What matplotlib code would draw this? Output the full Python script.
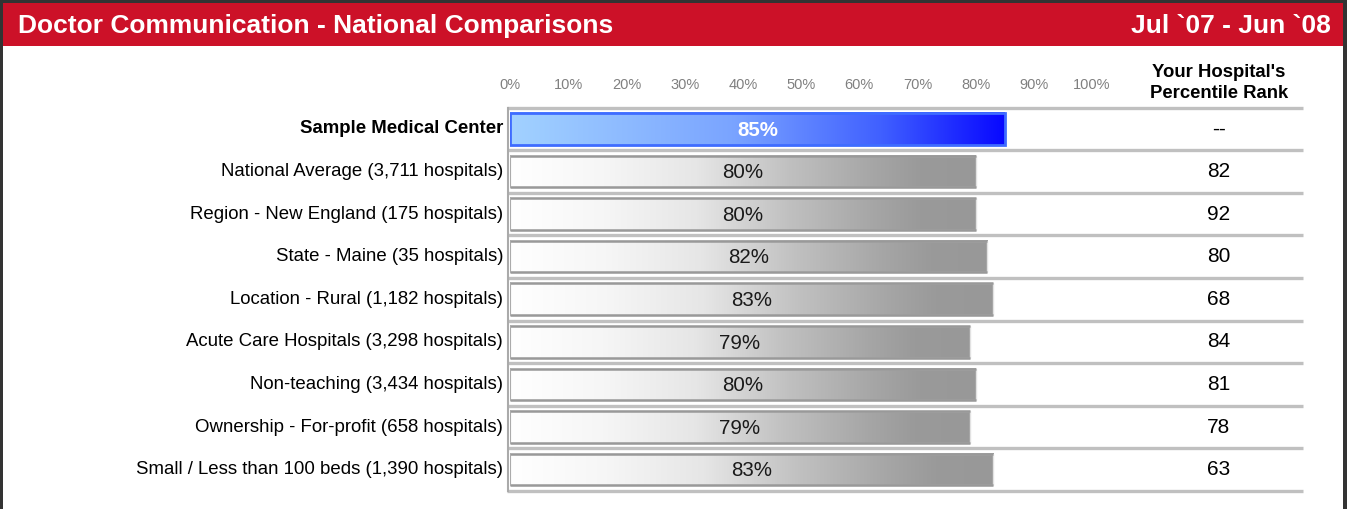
import numpy as np
import matplotlib.pyplot as plt
from matplotlib.colors import LinearSegmentedColormap
from matplotlib.patches import Rectangle

plt.rcParams['font.family'] = ['Liberation Sans', 'DejaVu Sans']

# data
categories = [
    'Sample Medical Center',
    'National Average (3,711 hospitals)',
    'Region - New England (175 hospitals)',
    'State - Maine (35 hospitals)',
    'Location - Rural (1,182 hospitals)',
    'Acute Care Hospitals (3,298 hospitals)',
    'Non-teaching (3,434 hospitals)',
    'Ownership - For-profit (658 hospitals)',
    'Small / Less than 100 beds (1,390 hospitals)',
]
scores = [85, 80, 80, 82, 83, 79, 80, 79, 83]
ranks = ['--', '82', '92', '80', '68', '84', '81', '78', '63']
ticks = [0, 10, 20, 30, 40, 50, 60, 70, 80, 90, 100]
title = 'Doctor Communication - National Comparisons'
period = 'Jul `07 - Jun `08'

W, H = 1347, 509
fig = plt.figure(figsize=(W / 100, H / 100), dpi=100, facecolor='white')

# frame and header band
fig.patches.append(Rectangle((3 / W, 1 - 46 / H), 1 - 7 / W, 43 / H,
                             transform=fig.transFigure, facecolor='#cc1128',
                             edgecolor='none', zorder=-2))
for (x0, y0, w, h) in [(0, 0, 3, H), (0, 0, W, 3), (W - 4, 0, 4, H)]:
    fig.patches.append(Rectangle((x0 / W, 1 - (y0 + h) / H), w / W, h / H,
                                 transform=fig.transFigure, facecolor='#333333',
                                 edgecolor='none', zorder=-1))
fig.text(18 / W, 1 - 26 / H, title, color='white', fontsize=19,
         fontweight='bold', va='center', ha='left')
fig.text(1331 / W, 1 - 26 / H, period, color='white', fontsize=19,
         fontweight='bold', va='center', ha='right')

# plotting area: 0% at x=510, 100% at x=1092
left, right = 510, 1092
top, bottom = 107.5, 491
ax = fig.add_axes([left / W, 1 - bottom / H, (right - left) / W, (bottom - top) / H])
ax.set_xlim(0, 100)
n = len(categories)
ax.set_ylim(n, 0)
ax.axis('off')

px = 100 / (right - left)
x_end = (1303 - left) * px
x_rank = (1219 - left) * px

gray_cmap = LinearSegmentedColormap.from_list(
    'g', [(0, '#ffffff'), (0.2, '#f6f6f6'), (0.4, '#e6e6e6'), (0.6, '#c0c0c0'),
          (0.78, '#a6a6a6'), (0.88, '#9a9a9a'), (1, '#989898')])
blue_cmap = LinearSegmentedColormap.from_list(
    'b', [(0, '#a2d2ff'), (0.45, '#7aa4ff'), (0.75, '#4060ff'), (1, '#0808ff')])
grad = np.linspace(0, 1, 256).reshape(1, -1)

for i, (cat, val, rk) in enumerate(zip(categories, scores, ranks)):
    yc = i + 0.5
    first = i == 0
    h = 0.76 if first else 0.74
    ax.imshow(grad, cmap=blue_cmap if first else gray_cmap, aspect='auto',
              extent=[0, val, yc + h / 2, yc - h / 2], zorder=2)
    if first:
        ax.add_patch(Rectangle((0, yc - h / 2), val, h, facecolor='none',
                               edgecolor='#3f6cff', lw=2, zorder=3))
    else:
        ax.add_patch(Rectangle((0, yc - h / 2), val, h, facecolor='none',
                               edgecolor='#e2e2e2', lw=1.0, zorder=3))
        for yy in (yc - h / 2, yc + h / 2):
            ax.plot([0, val], [yy, yy], color='#999999', lw=1.8, zorder=3,
                    solid_capstyle='butt')
        ax.plot([0, 0], [yc - h / 2, yc + h / 2], color='#aaaaaa', lw=1.4, zorder=3)
    ax.text(val / 2, yc + 0.03, f'{val}%', ha='center', va='center',
            fontsize=14.8,
            color='white' if first else '#1a1a1a',
            fontweight='bold' if first else 'normal', zorder=4)
    ax.text(-7 * px, yc, cat, ha='right', va='center', fontsize=13.4,
            fontweight='bold' if first else 'normal', color='black',
            clip_on=False)
    ax.text(x_rank, yc, rk, ha='center', va='center', fontsize=15,
            color='black', clip_on=False)

# separators
for j in range(n + 1):
    ax.plot([-3 * px, x_end], [j, j], color='#c0c0c0', lw=2.4,
            clip_on=False, zorder=1, solid_capstyle='butt')
ax.plot([-2 * px, -2 * px], [0, n], color='#aaaaaa', lw=1.5, clip_on=False, zorder=1)

# tick labels on top
for t in ticks:
    ax.text(t, -(107.5 - 85) / (bottom - top) * n, f'{t}%', ha='center',
            va='center', fontsize=10.5, color='#808080', clip_on=False)

fig.text(1219 / W, 1 - 83 / H, "Your Hospital's\nPercentile Rank", ha='center',
         va='center', fontsize=13.3, fontweight='bold', linespacing=1.3)

fig.savefig('out.png', dpi=100)
